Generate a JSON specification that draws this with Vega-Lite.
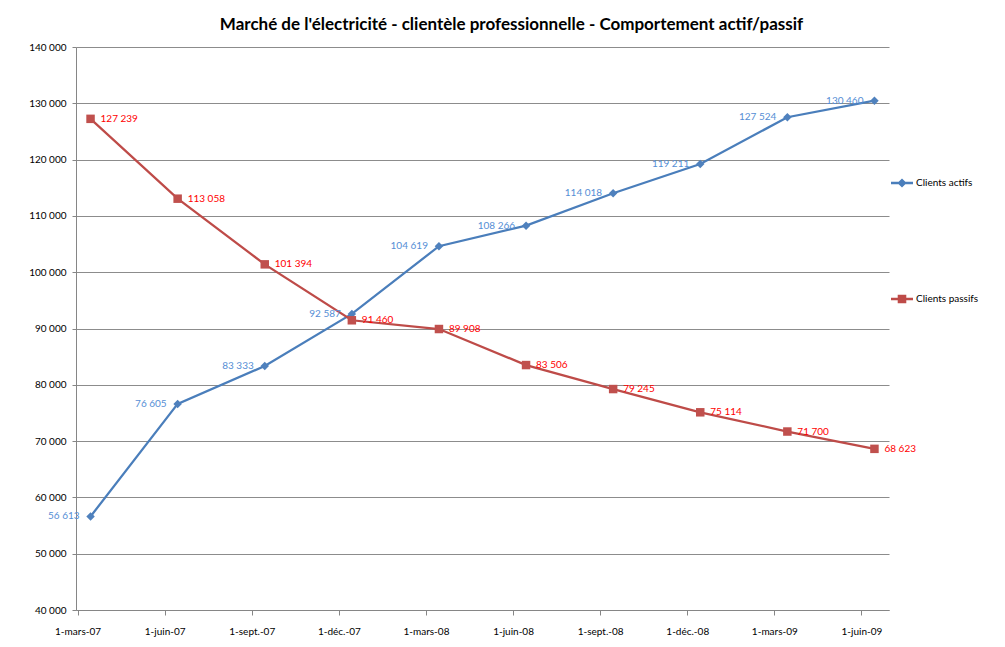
{
  "$schema": "https://vega.github.io/schema/vega-lite/v6.json",
  "width": 813,
  "height": 563,
  "autosize": {"type": "none"},
  "padding": {"left": 76, "top": 47, "right": 116, "bottom": 37},
  "background": "white",
  "title": {
    "text": "Marché de l'électricité - clientèle professionnelle - Comportement actif/passif",
    "font": "Lato",
    "fontSize": 17,
    "fontWeight": "bold",
    "color": "#000000",
    "anchor": "middle",
    "dx": 29,
    "offset": 8
  },
  "config": {
    "locale": {"number": {"decimal": ",", "thousands": "\u00a0", "grouping": [3], "currency": ["", "\u00a0€"]}},
    "view": {"stroke": null},
    "font": "Lato"
  },
  "data": {
    "values": [
      {"date": "1-mars-07", "serie": "Clients actifs", "valeur": 56613},
      {"date": "1-juin-07", "serie": "Clients actifs", "valeur": 76605},
      {"date": "1-sept.-07", "serie": "Clients actifs", "valeur": 83333},
      {"date": "1-déc.-07", "serie": "Clients actifs", "valeur": 92587},
      {"date": "1-mars-08", "serie": "Clients actifs", "valeur": 104619},
      {"date": "1-juin-08", "serie": "Clients actifs", "valeur": 108266},
      {"date": "1-sept.-08", "serie": "Clients actifs", "valeur": 114018},
      {"date": "1-déc.-08", "serie": "Clients actifs", "valeur": 119211},
      {"date": "1-mars-09", "serie": "Clients actifs", "valeur": 127524},
      {"date": "1-juin-09", "serie": "Clients actifs", "valeur": 130460},
      {"date": "1-mars-07", "serie": "Clients passifs", "valeur": 127239},
      {"date": "1-juin-07", "serie": "Clients passifs", "valeur": 113058},
      {"date": "1-sept.-07", "serie": "Clients passifs", "valeur": 101394},
      {"date": "1-déc.-07", "serie": "Clients passifs", "valeur": 91460},
      {"date": "1-mars-08", "serie": "Clients passifs", "valeur": 89908},
      {"date": "1-juin-08", "serie": "Clients passifs", "valeur": 83506},
      {"date": "1-sept.-08", "serie": "Clients passifs", "valeur": 79245},
      {"date": "1-déc.-08", "serie": "Clients passifs", "valeur": 75114},
      {"date": "1-mars-09", "serie": "Clients passifs", "valeur": 71700},
      {"date": "1-juin-09", "serie": "Clients passifs", "valeur": 68623}
    ]
  },
  "encoding": {
    "x": {
      "field": "date",
      "type": "ordinal",
      "sort": null,
      "scale": {"type": "point", "padding": 0.167},
      "axis": {
        "title": null,
        "labelAngle": 0,
        "labelFont": "Lato",
        "labelFontSize": 10,
        "labelColor": "#000000",
        "tickOffset": -13,
        "tickSize": 5,
        "tickColor": "#868686",
        "domainColor": "#868686",
        "labelPadding": 11,
        "grid": false
      }
    },
    "y": {
      "field": "valeur",
      "type": "quantitative",
      "scale": {"domain": [40000, 140000], "nice": false, "zero": false},
      "axis": {
        "title": null,
        "values": [40000, 50000, 60000, 70000, 80000, 90000, 100000, 110000, 120000, 130000, 140000],
        "format": ",d",
        "labelFont": "Lato",
        "labelFontSize": 10,
        "labelColor": "#000000",
        "tickSize": 4,
        "tickColor": "#868686",
        "domainColor": "#868686",
        "gridColor": "#8c8c8c",
        "gridWidth": 1,
        "labelPadding": 6
      }
    }
  },
  "layer": [
    {
      "mark": {"type": "line", "strokeWidth": 2.25},
      "encoding": {
        "color": {
          "field": "serie",
          "type": "nominal",
          "scale": {"domain": ["Clients actifs", "Clients passifs"], "range": ["#4A7EBB", "#BE4B48"]},
          "legend": {
            "title": null,
            "orient": "none",
            "legendX": 815,
            "legendY": 125,
            "padding": 0,
            "symbolSize": 484,
            "labelFont": "Lato",
            "labelFontSize": 10,
            "labelColor": "#000000",
            "labelOffset": 3,
            "rowPadding": 100,
            "encode": {
              "symbols": {
                "update": {
                  "shape": {"signal": "datum.value === 'Clients actifs' ? 'M-1,-0.11H1V0.11H-1Z M0,-0.42L0.42,0L0,0.42L-0.42,0Z' : 'M-1,-0.11H1V0.11H-1Z M-0.39,-0.39H0.39V0.39H-0.39Z'"},
                  "fill": {"signal": "scale('color', datum.value)"},
                  "stroke": {"value": "transparent"},
                  "strokeWidth": {"value": 0}
                }
              }
            }
          }
        }
      }
    },
    {
      "transform": [{"filter": "datum.serie === 'Clients actifs'"}],
      "mark": {"type": "point", "filled": true, "opacity": 1, "size": 72, "shape": "diamond", "color": "#4F81BD"}
    },
    {
      "transform": [{"filter": "datum.serie === 'Clients passifs'"}],
      "mark": {"type": "point", "filled": true, "opacity": 1, "size": 72, "shape": "square", "color": "#C0504D"}
    },
    {
      "transform": [{"filter": "datum.serie === 'Clients actifs'"}],
      "mark": {"type": "text", "align": "right", "baseline": "middle", "dx": -11, "font": "Lato", "fontSize": 10, "color": "#558ED5"},
      "encoding": {"text": {"field": "valeur", "type": "quantitative", "format": ",d"}}
    },
    {
      "transform": [{"filter": "datum.serie === 'Clients passifs'"}],
      "mark": {"type": "text", "align": "left", "baseline": "middle", "dx": 10, "font": "Lato", "fontSize": 10, "color": "#FF0000"},
      "encoding": {"text": {"field": "valeur", "type": "quantitative", "format": ",d"}}
    }
  ]
}
